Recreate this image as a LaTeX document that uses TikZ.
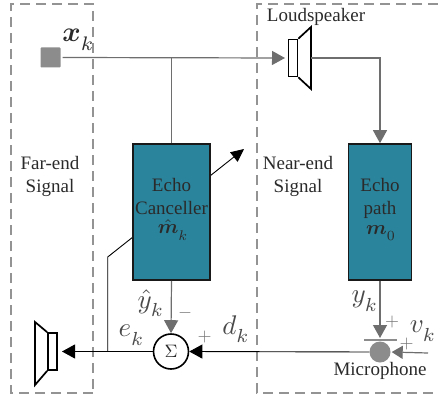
\documentclass[tikz,border=0pt]{standalone}
\usepackage{graphicx}
\usepackage{bm}
\usepackage{fontspec}
\setmainfont{Liberation Serif}
\usetikzlibrary{arrows.meta,calc}
\definecolor{boxteal}{HTML}{2A849C}
\definecolor{linegray}{HTML}{6E6E6E}
\definecolor{txt}{HTML}{2A2A2A}
\newcommand{\mlab}[2]{\scalebox{#1}{$#2$}}
\newcommand{\lowsub}[1]{\raisebox{-1.6pt}{$\scriptstyle #1$}}
\tikzset{
 region/.style={draw=gray!85,line width=1.1pt,dash pattern=on 10pt off 6pt},
 block/.style={draw=black!90,line width=1.6pt,fill=boxteal,minimum width=77pt,minimum height=136pt,inner sep=0pt,align=center,text=txt},
 lab/.style={text=txt,inner sep=0pt,font=\fontsize{19}{23}\selectfont,align=center},
 mth/.style={text=txt!85,inner sep=0pt},
 sgn/.style={text=black!55,inner sep=0pt},
 gline/.style={draw=linegray,line width=1.2pt},
 kline/.style={draw=black,line width=0.9pt},
 tipped/.style={-{Triangle[length=13pt,width=14pt]}},
 spk/.style={draw=black,line width=1.7pt,line join=miter},
}
\begin{document}
\begin{tikzpicture}[x=1pt,y=-1pt]
\useasboundingbox (0,0) rectangle (438,401);
% regions
\draw[region] (93,393) -- (11,393) -- (11,4) -- (93,4) -- cycle;
\draw[region] (438,4) -- (257,4) -- (257,393) -- (438,393);
\node[lab] (far) at (50,176) {Far-end\\Signal};
\node[lab] (near) at (298,176) {Near-end\\Signal};
\node[lab] (ls) at (316,17) {Loudspeaker};
\node[lab] (micl) at (380,371) {Microphone};
% source
\node[draw=none,fill=gray!90,minimum size=20pt,inner sep=0pt,rounded corners=0.8pt] (src) at (50.5,57.5) {};
% blocks
\coordinate (adj0) at (107.7,351.5);
\coordinate (adj1) at (107.7,257);
\coordinate (adjt) at (244,149);
\draw[kline,-{Triangle[length=13pt,width=12pt]}] (adj0) -- (adj1) -- (adjt);
\node[block] (ec) at (171.5,212) {};
\node[block,minimum width=63pt] (ep) at (380,212) {};
\node[lab] (ect) at (171.5,196) {Echo\\Canceller};
\node[text=txt,inner sep=0pt] (mh) at (173,230) {\mlab{2}{\hat{\bm{m}}_{\lowsub{k}}}};
\node[lab] (ept) at (380,198.5) {Echo\\path};
\node[text=txt,inner sep=0pt] (m0) at (381,233) {\mlab{2}{\bm{m}_{\lowsub{0}}}};
% speakers
\node[spk,draw,minimum width=9pt,minimum height=37pt,inner sep=0pt] (sp1) at (293,58) {};
\draw[spk] (sp1.north east) -- (311,27) -- (311,89) -- (sp1.south east);
\coordinate (sp1o) at (311,58);
\node[spk,draw,minimum width=9pt,minimum height=37pt,inner sep=0pt] (sp2) at (52.5,351.5) {};
\draw[spk] (sp2.north west) -- (35,322) -- (35,385) -- (sp2.south west);
% sum and mic
\node[circle,draw=black,line width=1.6pt,minimum size=35pt,inner sep=0pt,text=txt] (sum) at (171,351.5) {\mlab{1.8}{\Sigma}};
\node[circle,fill=gray!90,minimum size=21pt,inner sep=0pt] (mic) at (380,352) {};
\coordinate (barl) at (364,340);
\coordinate (barr) at (397,340);
\draw[draw=gray!90,line width=1.6pt] (barl) -- (barr);
% connectors
\coordinate (jn) at (171.5,58);
\coordinate (cr) at (380,58);
\coordinate (vs) at (428,353);
\coordinate (spin) at (285,58);
\coordinate (spo) at (62,351.5);
\draw[gline,tipped] (src.east) ++(2,0) -- (spin);
\draw[gline] (jn) -- (ec.north);
\draw[gline,tipped] (sp1o) -- (cr) -- (ep.north);
\draw[gline,tipped] (ec.south) -- (sum.north);
\draw[gline,tipped] (ep.south) -- (380,338);
\draw[gline,-{Triangle[length=11pt,width=13pt]},shorten >=1pt] (vs) -- (mic.east);
\draw[kline,tipped] (sum.west) -- (spo);
\draw[kline,tipped] (mic.west) -- (sum.east);
% labels
\node[text=txt,inner sep=0pt] (xl) at (78.5,40) {\mlab{2.8}{\bm{x}_{\lowsub{k}}}};
\node[mth] (yh) at (151,303) {\mlab{2.7}{\hat{y}_{\lowsub{k}}}};
\node[mth] (el) at (131.5,335) {\mlab{2.7}{e_{\lowsub{k}}}};
\node[mth] (dl) at (236,329) {\mlab{2.7}{d_{\lowsub{k}}}};
\node[mth] (yl) at (365,301) {\mlab{2.7}{y_{\lowsub{k}}}};
\node[mth] (vl) at (423,331) {\mlab{2.7}{v_{\lowsub{k}}}};
\node[sgn] (minus) at (185,312.7) {\mlab{1.8}{-}};
\node[sgn] (plus1) at (204.5,337) {\mlab{1.8}{+}};
\node[sgn] (plus2) at (392,321.7) {\mlab{1.8}{+}};
\node[sgn] (plus3) at (406.5,344) {\mlab{1.8}{+}};
\end{tikzpicture}
\end{document}
